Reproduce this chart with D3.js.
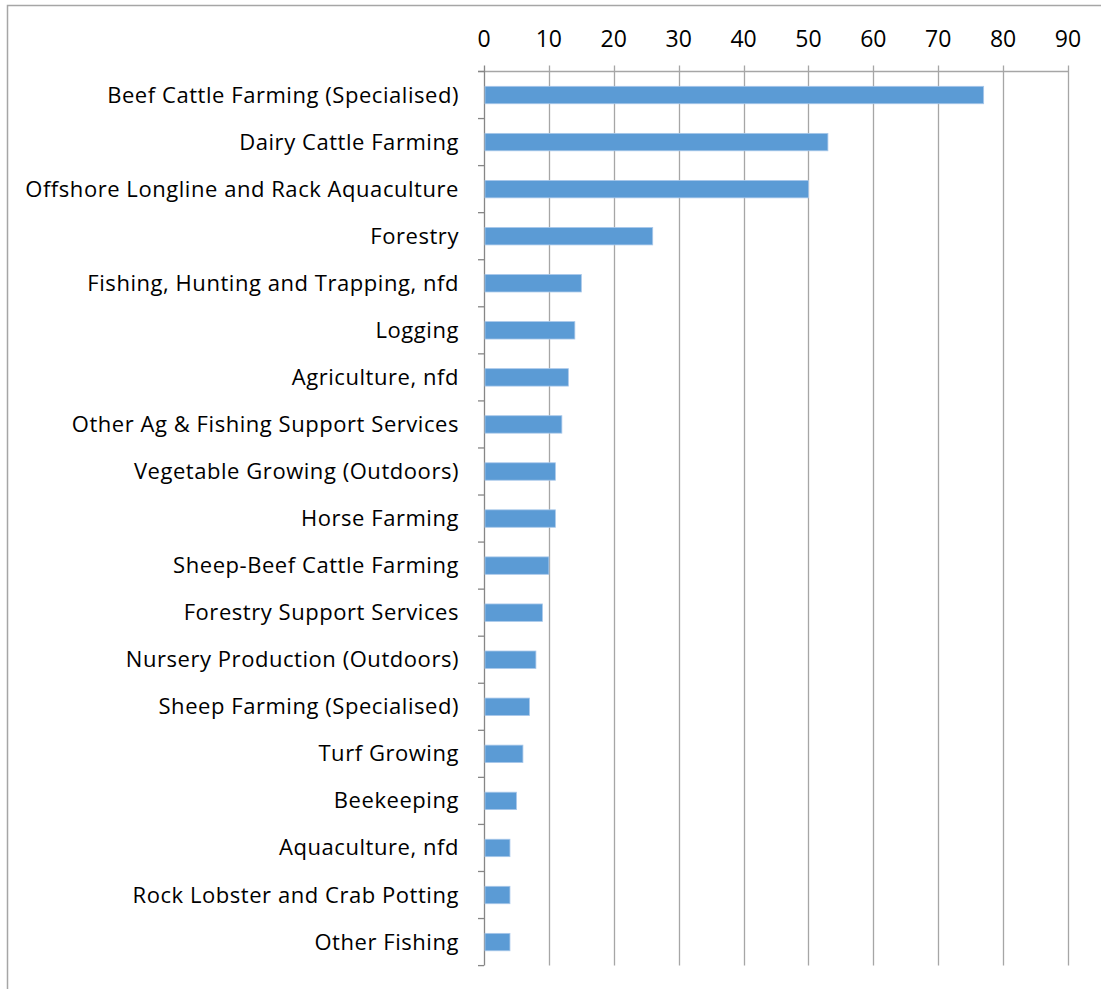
<!DOCTYPE html>
<html>
<head>
<meta charset="utf-8">
<script src="https://cdn.jsdelivr.net/npm/d3@7"></script>
<style>
  html, body { margin: 0; padding: 0; background: #fff; }
  svg { display: block; }
  text { font-family: "Open Sans", Lato, sans-serif; fill: #000; }
</style>
</head>
<body>
<svg id="chart" width="1101" height="989"></svg>
<script>
// Industry categories, top to bottom
const categories = [
  "Beef Cattle Farming (Specialised)",
  "Dairy Cattle Farming",
  "Offshore Longline and Rack Aquaculture",
  "Forestry",
  "Fishing, Hunting and Trapping, nfd",
  "Logging",
  "Agriculture, nfd",
  "Other Ag & Fishing Support Services",
  "Vegetable Growing (Outdoors)",
  "Horse Farming",
  "Sheep-Beef Cattle Farming",
  "Forestry Support Services",
  "Nursery Production (Outdoors)",
  "Sheep Farming (Specialised)",
  "Turf Growing",
  "Beekeeping",
  "Aquaculture, nfd",
  "Rock Lobster and Crab Potting",
  "Other Fishing"
];
const values = [77, 53, 50, 26, 15, 14, 13, 12, 11, 11, 10, 9, 8, 7, 6, 5, 4, 4, 4];
const xTicks = [0, 10, 20, 30, 40, 50, 60, 70, 80, 90];

const svg = d3.select("#chart");

// chart frame
svg.append("rect")
  .attr("x", 7.5).attr("y", 5.5)
  .attr("width", 1200).attr("height", 1200)
  .attr("fill", "none").attr("stroke", "#A6A6A6").attr("stroke-width", 1.5);

const plot = { left: 484, right: 1068, top: 71.5, bottom: 965.6 };

const x = d3.scaleLinear().domain([0, 90]).range([plot.left, plot.right]);
const y = d3.scaleBand().domain(categories).range([plot.top, plot.bottom]).paddingInner(0).paddingOuter(0);

const gridColor = "#A6A6A6";

// vertical gridlines
svg.append("g").selectAll("line").data(xTicks.filter(d => d > 0)).join("line")
  .attr("x1", d => Math.round(x(d)) + 0.5).attr("x2", d => Math.round(x(d)) + 0.5)
  .attr("y1", plot.top - 6).attr("y2", plot.bottom)
  .attr("stroke", gridColor).attr("stroke-width", 1.3);

// top value axis line and category axis line
svg.append("line")
  .attr("x1", plot.left - 6).attr("x2", plot.right + 0.5)
  .attr("y1", plot.top).attr("y2", plot.top)
  .attr("stroke", gridColor).attr("stroke-width", 1.3);
svg.append("line")
  .attr("x1", plot.left + 0.5).attr("x2", plot.left + 0.5)
  .attr("y1", plot.top - 6).attr("y2", plot.bottom)
  .attr("stroke", "#868686").attr("stroke-width", 1.3);

// value tick labels
svg.append("g").selectAll("text").data(xTicks).join("text")
  .attr("x", d => x(d)).attr("y", 37.5)
  .attr("text-anchor", "middle").attr("dominant-baseline", "central")
  .attr("font-size", 23)
  .text(d => d);

// category tick marks at band boundaries
const bounds = categories.map(c => y(c)).concat([plot.bottom]);
svg.append("g").selectAll("line").data(bounds).join("line")
  .attr("x1", plot.left - 6).attr("x2", plot.left)
  .attr("y1", d => d).attr("y2", d => d)
  .attr("stroke", "#868686").attr("stroke-width", 1.3);

// bars
const barH = y.bandwidth() / 2.7;
svg.append("g").selectAll("rect").data(values).join("rect")
  .attr("x", x(0) + 1)
  .attr("y", (d, i) => y(categories[i]) + (y.bandwidth() - barH) / 2)
  .attr("width", d => x(d) - x(0) - 1)
  .attr("height", barH)
  .attr("fill", "#5B9BD5")
  .attr("stroke", "#A9C8EA").attr("stroke-width", 0.8);

// category labels
svg.append("g").selectAll("text").data(categories).join("text")
  .attr("x", plot.left - 25)
  .attr("y", d => y(d) + y.bandwidth() / 2 - 1.5)
  .attr("text-anchor", "end").attr("dominant-baseline", "central")
  .attr("font-size", 22)
  .attr("letter-spacing", 0.55)
  .text(d => d);
</script>
</body>
</html>
